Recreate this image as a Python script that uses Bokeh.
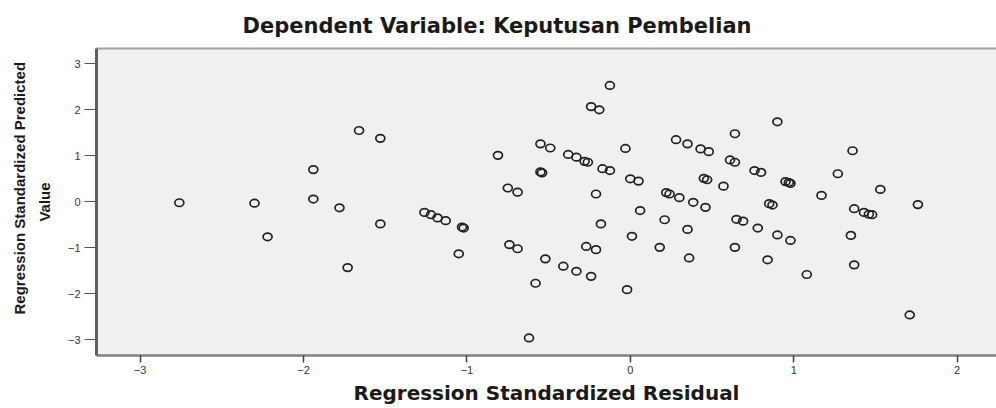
import math
from bokeh.plotting import figure
from bokeh.models import Range1d, FixedTicker, LinearAxis, Title, ColumnDataSource
from bokeh.embed import file_html
from bokeh.resources import INLINE

# ---- data ----
residual = [
    -2.76, -2.30, -2.22, -1.94, -1.94, -1.78, -1.66, -1.53, -1.53, -1.73,
    -1.26, -1.22, -1.18, -1.13, -1.02, -1.03, -1.05, -0.81,
    -0.125, -0.24, -0.19, 0.90, 0.64, -0.55, -0.49, -0.03, 0.28, 0.35,
    0.43, 0.48, 1.36, -0.38, -0.33, -0.28, -0.26, -0.17, -0.125, -0.54,
    -0.55, 0.00, 0.05, 0.45, 0.47, 0.61, 0.64, 0.76, 0.80, 0.95,
    0.98, 0.97, 1.27, 0.57, -0.75, -0.69, -0.21, 0.22, 0.24, 0.30,
    0.385, 0.46, 1.17, 0.85, 0.87, 1.53, 1.76, 1.37, 1.43, 1.48,
    1.46, 0.06, -0.18, 0.21, 0.65, 0.69, 0.78, 0.35, 0.01, 0.90,
    0.98, 1.35, -0.74, -0.69, -0.27, -0.21, 0.18, 0.64, -0.52, 0.36,
    0.84, 1.37, -0.41, -0.33, -0.24, 1.08, -0.58, -0.02, 1.71, -0.62,
]
predicted = [
    -0.02, -0.03, -0.76, 0.70, 0.06, -0.13, 1.55, 1.38, -0.48, -1.43,
    -0.23, -0.28, -0.35, -0.41, -0.57, -0.55, -1.13, 1.01,
    2.53, 2.07, 2.00, 1.74, 1.48, 1.26, 1.17, 1.16, 1.35, 1.26,
    1.15, 1.09, 1.11, 1.03, 0.97, 0.88, 0.86, 0.72, 0.68, 0.63,
    0.65, 0.50, 0.45, 0.51, 0.48, 0.91, 0.86, 0.68, 0.64, 0.44,
    0.40, 0.42, 0.61, 0.34, 0.30, 0.21, 0.17, 0.20, 0.17, 0.09,
    -0.01, -0.12, 0.14, -0.04, -0.07, 0.27, -0.06, -0.15, -0.23, -0.28,
    -0.27, -0.19, -0.48, -0.39, -0.38, -0.42, -0.57, -0.60, -0.75, -0.72,
    -0.84, -0.73, -0.93, -1.02, -0.97, -1.04, -0.99, -0.99, -1.24, -1.22,
    -1.26, -1.37, -1.40, -1.51, -1.62, -1.58, -1.77, -1.91, -2.46, -2.96,
]
x_ticks = [-3, -2, -1, 0, 1, 2]
y_ticks = [-3, -2, -1, 0, 1, 2, 3]
title_text = "Dependent Variable: Keputusan Pembelian"
x_label = "Regression Standardized Residual"
y_label_lines = ["Regression Standardized Predicted", "Value"]

src = ColumnDataSource(dict(x=residual, y=predicted))

p = figure(width=996, height=408, output_backend="svg", toolbar_location=None,
           x_range=Range1d(-3.267, 2.241), y_range=Range1d(-3.341, 3.333),
           min_border_left=96, min_border_right=0, min_border_top=48,
           min_border_bottom=53, x_axis_location=None, y_axis_location=None,
           title=None)
p.background_fill_color = "#f0f0f0"
p.border_fill_color = "white"
p.outline_line_color = None
p.grid.visible = False

xaxis = LinearAxis(ticker=FixedTicker(ticks=x_ticks))
xaxis.axis_line_color = "#808080"
xaxis.axis_line_width = 2.5
xaxis.major_tick_out = 7
xaxis.major_tick_in = 0
xaxis.major_tick_line_color = "#444444"
xaxis.major_tick_line_width = 1.5
xaxis.minor_tick_line_color = None
xaxis.major_label_standoff = 3
xaxis.major_label_text_font = "Liberation Sans"
xaxis.major_label_text_font_size = "11px"
xaxis.major_label_text_color = "#333333"
xaxis.axis_label = x_label
xaxis.axis_label_text_font = "DejaVu Sans"
xaxis.axis_label_text_font_style = "bold"
xaxis.axis_label_text_font_size = "20px"
xaxis.axis_label_text_color = "#1a1a1a"
xaxis.axis_label_standoff = 4
p.add_layout(xaxis, "below")

yaxis = LinearAxis(ticker=FixedTicker(ticks=y_ticks))
yaxis.axis_line_color = "#606060"
yaxis.axis_line_width = 3
yaxis.major_tick_out = 12
yaxis.major_tick_in = 0
yaxis.major_tick_line_color = "#555555"
yaxis.major_tick_line_width = 1
yaxis.minor_tick_line_color = None
yaxis.major_label_standoff = 4
yaxis.major_label_text_font = "Liberation Sans"
yaxis.major_label_text_font_size = "11px"
yaxis.major_label_text_color = "#333333"
p.add_layout(yaxis, "left")

top = LinearAxis(ticker=FixedTicker(ticks=[]))
top.axis_line_color = "#a0a0a0"
top.axis_line_width = 2
top.major_tick_line_color = None
top.minor_tick_line_color = None
top.major_tick_out = 0
top.major_label_standoff = 0
top.major_label_text_font_size = "0px"
p.add_layout(top, "above")

p.ellipse(x="x", y="y", width=9, height=7.5, width_units="screen",
          height_units="screen", source=src, fill_color=None,
          line_color="#222222", line_width=1.7)

# title (above the frame)
p.add_layout(Title(text=title_text, align="left", offset=146,
                   text_font="DejaVu Sans", text_font_style="bold",
                   text_font_size="21px", text_color="#1a1a1a",
                   standoff=22), "above")

# two-line y-axis label
p.add_layout(Title(text=y_label_lines[1], align="center",
                   text_font="Liberation Sans", text_font_style="bold",
                   text_font_size="15px", text_color="#1a1a1a",
                   standoff=24), "left")
p.add_layout(Title(text=y_label_lines[0], align="left", offset=41,
                   text_font="Liberation Sans", text_font_style="bold",
                   text_font_size="15px", text_color="#1a1a1a",
                   standoff=-12), "left")

open("out.html", "w").write(file_html(p, INLINE))
